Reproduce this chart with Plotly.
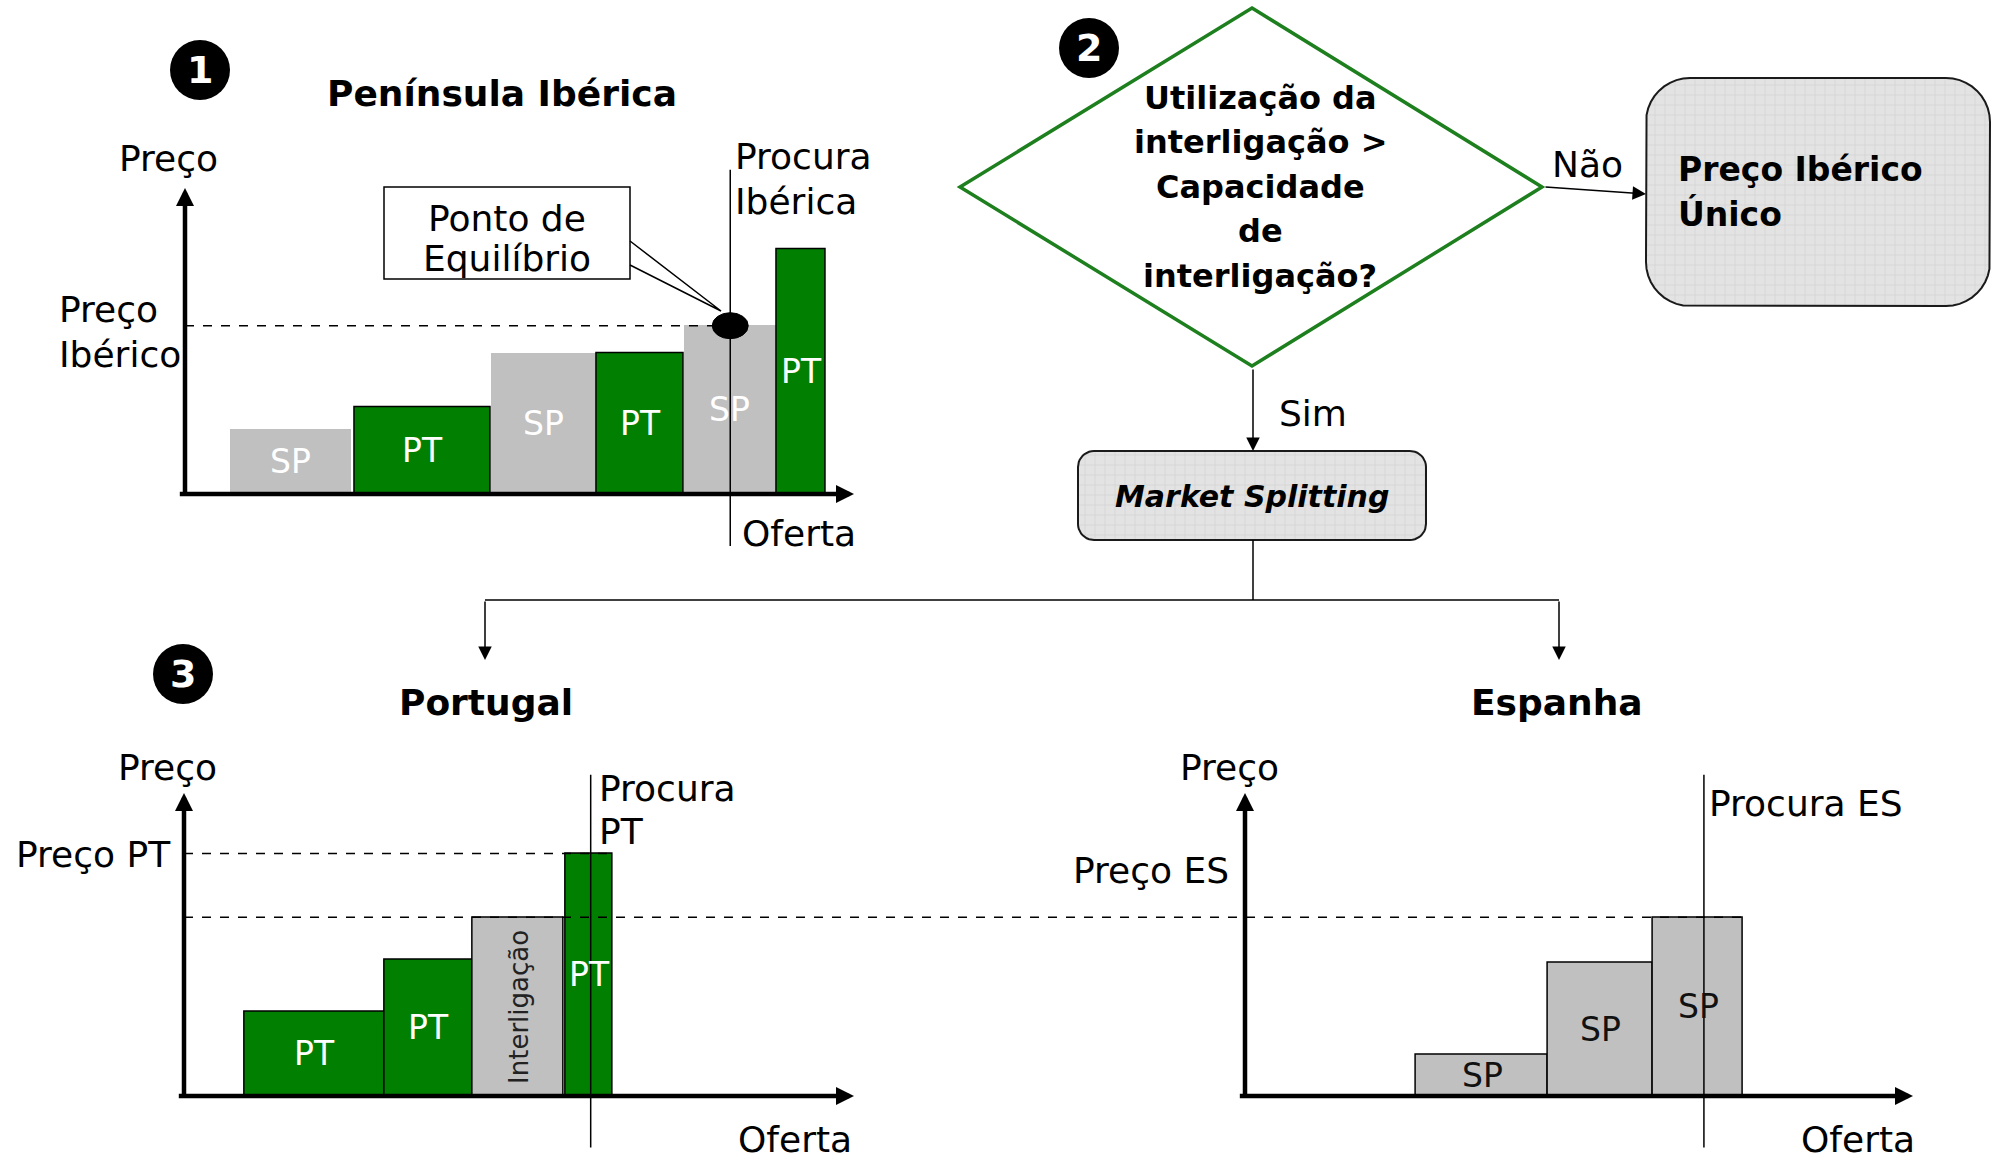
import plotly.graph_objects as go

W, H = 1995, 1161
FONT = "DejaVu Sans"
GREEN = "#007f00"
GREY = "#c0c0c0"

# ---------------- data ----------------
# 1) Iberian market: merit-order blocks (supply from / to, offer price)
ib_zone = ["SP", "PT", "SP", "PT", "SP", "PT"]
ib_q_from = [6.7, 25.4, 45.7, 61.6, 74.6, 88.5]
ib_q_to = [24.7, 45.7, 61.4, 74.6, 88.3, 95.8]
ib_price = [21, 28.5, 46, 46, 55, 80]
ib_demand = 81.5
ib_price_eq = 55

# 3a) Portugal after market splitting
pt_zone = ["PT", "PT", "Interligação", "PT"]
pt_q_from = [9.1, 30.0, 43.1, 56.9]
pt_q_to = [30.0, 43.0, 56.7, 64.0]
pt_price = [28, 45, 59, 80]
pt_demand = 60.7
pt_price_eq = 80

# 3b) Spain after market splitting
es_zone = ["SP", "SP", "SP"]
es_q_from = [25.6, 45.4, 61.1]
es_q_to = [45.4, 61.1, 74.6]
es_price = [13.5, 44, 59]
es_demand = 68.7
es_price_eq = 59

# ---------------- chart frames (pixel origin, px per unit, ranges) ----------------
FRAMES = {
    "ib": dict(ox=185, oy=494, sx=6.69, sy=3.06, xr=(-12, 112), yr=(-22, 112)),
    "pt": dict(ox=184, oy=1096, sx=6.70, sy=3.03, xr=(-12, 112), yr=(-20, 112)),
    "es": dict(ox=1245, oy=1096, sx=6.68, sy=3.03, xr=(-12, 112), yr=(-20, 112)),
}
AXES = {"ib": ("x", "y"), "pt": ("x2", "y2"), "es": ("x3", "y3")}


def domains(f):
    xd = [(f["ox"] + f["xr"][0] * f["sx"]) / W, (f["ox"] + f["xr"][1] * f["sx"]) / W]
    yd = [1 - (f["oy"] - f["yr"][0] * f["sy"]) / H, 1 - (f["oy"] - f["yr"][1] * f["sy"]) / H]
    return xd, yd


def to_paper(name, q, p):
    f = FRAMES[name]
    return (f["ox"] + q * f["sx"]) / W, 1 - (f["oy"] - p * f["sy"]) / H


fig = go.Figure()
shapes = []
annots = []


def add_blocks(name, zone, q_from, q_to, price, styles):
    xa, ya = AXES[name]
    for key, st in styles.items():
        idx = [i for i, z in enumerate(zone) if z == key]
        if not idx:
            continue
        fig.add_trace(go.Bar(
            x=[(q_from[i] + q_to[i]) / 2 for i in idx],
            y=[price[i] for i in idx],
            width=[q_to[i] - q_from[i] for i in idx],
            base=0,
            marker=dict(color=st["fill"], line=dict(color="black", width=st["lw"])),
            xaxis=xa, yaxis=ya, hoverinfo="skip", showlegend=False,
        ))
        # block label, centred in the block at its natural size
        for i in idx:
            annots.append(dict(
                x=(q_from[i] + q_to[i]) / 2, y=price[i] / 2, xref=xa, yref=ya,
                text=zone[i], showarrow=False, textangle=st.get("angle", 0),
                xanchor="center", yanchor="middle",
                font=dict(family=FONT, size=st.get("size", 33), color=st["tc"])))


def add_axes_arrows(name):
    xa, ya = AXES[name]
    common = dict(xref=xa, yref=ya, axref=xa, ayref=ya, text="", showarrow=True,
                  arrowhead=2, arrowwidth=4.5, arrowsize=0.8, arrowcolor="black",
                  standoff=0, startstandoff=0)
    annots.append(dict(x=0, y=100, ax=0, ay=-1, **common))
    annots.append(dict(x=100, y=0, ax=-1, ay=0, **common))


def demand_line(name, q):
    xa, ya = AXES[name]
    shapes.append(dict(type="line", xref=xa, yref=ya, x0=q, x1=q, y0=-17, y1=106,
                       line=dict(color="black", width=1.5)))


# ---------------- chart 1: Iberian market ----------------
add_blocks("ib", ib_zone, ib_q_from, ib_q_to, ib_price, {
    "SP": dict(fill=GREY, tc="white", lw=0),
    "PT": dict(fill=GREEN, tc="white", lw=1.5),
})
add_axes_arrows("ib")
shapes.append(dict(type="line", xref="x", yref="y", x0=0, x1=ib_demand, y0=ib_price_eq,
                   y1=ib_price_eq, line=dict(color="black", width=1.5, dash="dash")))
demand_line("ib", ib_demand)
shapes.append(dict(type="circle", xref="x", yref="y", xsizemode="pixel", ysizemode="pixel",
                   xanchor=ib_demand, yanchor=ib_price_eq, x0=-18, x1=18, y0=-13, y1=13,
                   fillcolor="black", line=dict(color="black", width=1)))

# ---------------- chart 3a: Portugal ----------------
add_blocks("pt", pt_zone, pt_q_from, pt_q_to, pt_price, {
    "PT": dict(fill=GREEN, tc="white", lw=1.5),
    "Interligação": dict(fill=GREY, tc="#222222", lw=1.5, angle=-90, size=26),
})
add_axes_arrows("pt")
shapes.append(dict(type="line", xref="x2", yref="y2", x0=0, x1=pt_q_to[-1], y0=pt_price_eq,
                   y1=pt_price_eq, line=dict(color="black", width=1.5, dash="dash")))
demand_line("pt", pt_demand)

# ---------------- chart 3b: Spain ----------------
add_blocks("es", es_zone, es_q_from, es_q_to, es_price, {
    "SP": dict(fill=GREY, tc="#111111", lw=1.5),
})
add_axes_arrows("es")
demand_line("es", es_demand)

# Spanish price carried back to Portugal through the interconnection
x0p, y0p = to_paper("pt", 0, es_price_eq)
x1p, _ = to_paper("es", es_q_to[-1], es_price_eq)
shapes.append(dict(type="line", xref="paper", yref="paper", x0=x0p, x1=x1p, y0=y0p, y1=y0p,
                   line=dict(color="black", width=1.5, dash="dash")))

# ---------------- flowchart (pixel overlay x4/y4) ----------------
OV = dict(xref="x4", yref="y4")


def rounded_box(x0, y0, x1, y1, r, n=10):
    import math
    pts = []
    corners = [(x1 - r, y0 + r, -90, 0), (x1 - r, y1 - r, 0, 90),
               (x0 + r, y1 - r, 90, 180), (x0 + r, y0 + r, 180, 270)]
    for cx, cy, a0, a1 in corners:
        for k in range(n + 1):
            a = math.radians(a0 + (a1 - a0) * k / n)
            pts.append((cx + r * math.cos(a), cy + r * math.sin(a)))
    pts.append(pts[0])
    fig.add_trace(go.Scatter(
        x=[p[0] for p in pts], y=[p[1] for p in pts], mode="lines", fill="toself",
        fillcolor="#e3e3e3",
        fillpattern=dict(shape="+", size=10, solidity=0.1, fgcolor="#cbcbcb",
                         bgcolor="#e3e3e3", fillmode="replace"),
        line=dict(color="#1a1a1a", width=2), xaxis="x4", yaxis="y4",
        hoverinfo="skip", showlegend=False))


rounded_box(1646, 78, 1990, 306, 44)
rounded_box(1078, 451, 1426, 540, 16)

# decision diamond
shapes.append(dict(type="path", path="M 1252 8 L 1542 187 L 1252 366 L 960 187 Z",
                   fillcolor="white", line=dict(color="#1e7f1e", width=3.5), **OV))

# callout for the equilibrium point
shapes.append(dict(type="rect", x0=384, y0=187, x1=630, y1=279, fillcolor="white",
                   line=dict(color="black", width=1.5), **OV))
shapes.append(dict(type="path", path="M 630 241 L 721 311 L 630 265",
                   line=dict(color="black", width=1.5), **OV))

# connector lines
for (xa_, ya_, xb_, yb_) in [(1253, 540, 1253, 600), (485, 600, 1559, 600)]:
    shapes.append(dict(type="line", x0=xa_, y0=ya_, x1=xb_, y1=yb_,
                       line=dict(color="black", width=1.5), **OV))


def arrow(x_tail, y_tail, x_head, y_head):
    annots.append(dict(x=x_head, y=y_head, ax=x_tail, ay=y_tail, axref="x4", ayref="y4",
                       text="", showarrow=True, arrowhead=2, arrowwidth=1.5, arrowsize=1.8,
                       arrowcolor="black", standoff=0, **OV))


arrow(1544, 187, 1646, 194)
arrow(1253, 368, 1253, 451)
arrow(485, 600, 485, 660)
arrow(1559, 600, 1559, 660)

# numbered step markers
for cx, cy in [(200, 70), (1089, 48), (183, 674)]:
    shapes.append(dict(type="circle", x0=cx - 30, x1=cx + 30, y0=cy - 30, y1=cy + 30,
                       fillcolor="black", line=dict(color="black", width=0), **OV))


def txt(x, y, s, size=36, anchor="center", color="black"):
    annots.append(dict(x=x, y=y, text=s, showarrow=False, xanchor=anchor, yanchor="middle",
                       font=dict(family=FONT, size=size, color=color), **OV))


txt(200, 70, "<b>1</b>", 38, color="white")
txt(1089, 48, "<b>2</b>", 38, color="white")
txt(183, 674, "<b>3</b>", 38, color="white")

# chart 1 texts
txt(502, 93, "<b>Península Ibérica</b>", 36)
txt(168, 158, "Preço")
txt(57, 309, "Preço", anchor="left")
txt(57, 354, "Ibérico", anchor="left")
txt(733, 156, "Procura", anchor="left")
txt(733, 201, "Ibérica", anchor="left")
txt(740, 533, "Oferta", anchor="left")
txt(507, 218, "Ponto de")
txt(507, 258, "Equilíbrio")

# flowchart texts
for yy, line in zip([98, 142, 187, 231, 276],
                    ["Utilização da", "interligação >", "Capacidade", "de", "interligação?"]):
    txt(1260, yy, f"<b>{line}</b>", 32)
txt(1587, 164, "Não")
txt(1676, 169, "<b>Preço Ibérico</b>", 33, anchor="left")
txt(1676, 214, "<b>Único</b>", 33, anchor="left")
txt(1277, 413, "Sim", anchor="left")
txt(1252, 496, "<b><i>Market Splitting</i></b>", 30)

# chart 3 texts
txt(486, 702, "<b>Portugal</b>", 36)
txt(1557, 702, "<b>Espanha</b>", 36)
txt(167, 767, "Preço")
txt(14, 854, "Preço PT", anchor="left")
txt(597, 788, "Procura", anchor="left")
txt(597, 831, "PT", anchor="left")
txt(795, 1139, "Oferta")
txt(1229, 767, "Preço")
txt(1231, 870, "Preço ES", anchor="right")
txt(1707, 803, "Procura ES", anchor="left")
txt(1858, 1139, "Oferta")

# ---------------- layout ----------------
layout = dict(width=W, height=H, margin=dict(l=0, r=0, t=0, b=0),
              paper_bgcolor="white", plot_bgcolor="rgba(0,0,0,0)",
              barmode="overlay", bargap=0, showlegend=False,
              shapes=shapes, annotations=annots)
hidden = dict(visible=False, showgrid=False, zeroline=False, fixedrange=True)
for name, (xa, ya) in AXES.items():
    f = FRAMES[name]
    xd, yd = domains(f)
    kx = "xaxis" if xa == "x" else "xaxis" + xa[1:]
    ky = "yaxis" if ya == "y" else "yaxis" + ya[1:]
    layout[kx] = dict(domain=xd, range=list(f["xr"]), anchor=ya, **hidden)
    layout[ky] = dict(domain=yd, range=list(f["yr"]), anchor=xa, **hidden)
layout["xaxis4"] = dict(domain=[0, 1], range=[0, W], anchor="y4", **hidden)
layout["yaxis4"] = dict(domain=[0, 1], range=[H, 0], anchor="x4", **hidden)

fig.update_layout(**layout)
fig.write_html("out.html", config={"displayModeBar": False})
